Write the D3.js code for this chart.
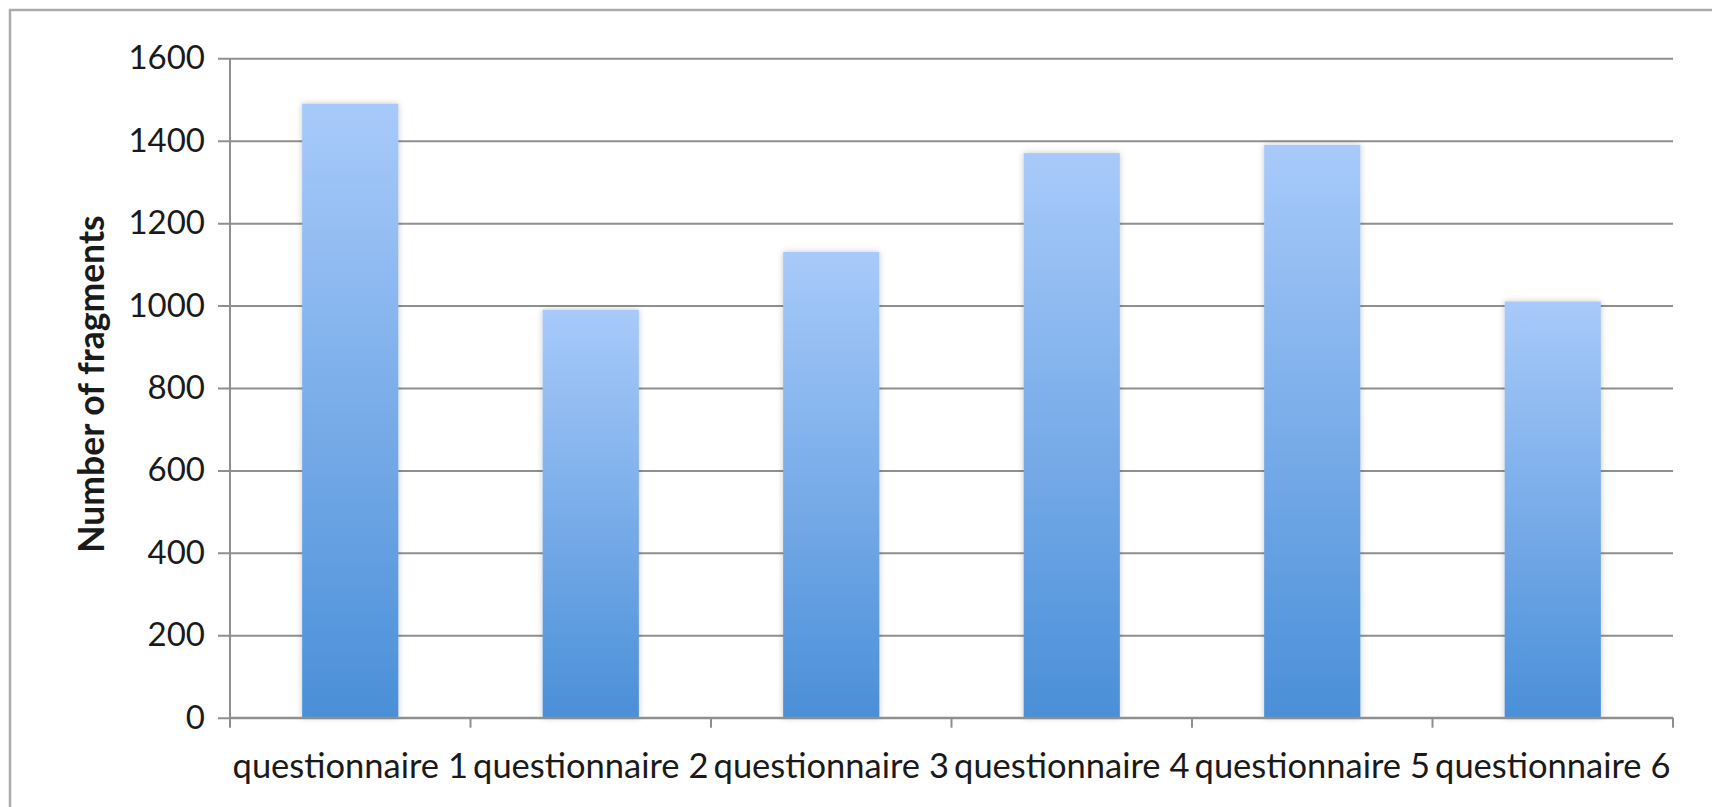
<!DOCTYPE html>
<html>
<head>
<meta charset="utf-8">
<script src="https://cdn.jsdelivr.net/npm/d3@7"></script>
<style>
  html, body { margin: 0; padding: 0; background: #fff; }
  svg { display: block; }
  text { font-family: Lato, "Open Sans", sans-serif; fill: #1a1a1a; }
</style>
</head>
<body>
<script>
// Fragments collected per questionnaire
const categories = ["questionnaire 1", "questionnaire 2", "questionnaire 3",
                    "questionnaire 4", "questionnaire 5", "questionnaire 6"];
const fragmentCounts = [1490, 990, 1130, 1370, 1390, 1010];
const yTickValues = [0, 200, 400, 600, 800, 1000, 1200, 1400, 1600];
const yAxisTitle = "Number of fragments";

const W = 1712, H = 807;
const plot = { left: 230, right: 1673, top: 58.3, bottom: 717.7 };

const svg = d3.select("body").append("svg")
  .attr("width", W).attr("height", H);

const defs = svg.append("defs");
const grad = defs.append("linearGradient")
  .attr("id", "barFill").attr("x1", 0).attr("y1", 0).attr("x2", 0).attr("y2", 1);
grad.append("stop").attr("offset", "0%").attr("stop-color", "#a8cafa");
grad.append("stop").attr("offset", "100%").attr("stop-color", "#4a8fd8");

const shadow = defs.append("filter").attr("id", "barShadow")
  .attr("x", "-20%").attr("y", "-5%").attr("width", "140%").attr("height", "110%");
shadow.append("feDropShadow")
  .attr("dx", 0).attr("dy", 0).attr("stdDeviation", 3)
  .attr("flood-color", "#000").attr("flood-opacity", 0.22);

// outer chart frame
svg.append("rect")
  .attr("x", 10).attr("y", 10)
  .attr("width", W + 20).attr("height", H + 20)
  .attr("fill", "none").attr("stroke", "#ababab").attr("stroke-width", 2.5);

const x = d3.scaleBand()
  .domain(categories)
  .range([plot.left, plot.right])
  .paddingInner(0.6)
  .paddingOuter(0.3);

const y = d3.scaleLinear()
  .domain([0, 1600])
  .range([plot.bottom, plot.top]);

// horizontal gridlines + left ticks
const yAxis = svg.append("g")
  .attr("transform", `translate(${plot.left},0)`)
  .call(d3.axisLeft(y)
    .tickValues(yTickValues)
    .tickSize(-(plot.right - plot.left))
    .tickPadding(25)
    .tickFormat(d3.format("d")));
yAxis.select(".domain").remove();
yAxis.selectAll(".tick line")
  .attr("x1", -12)
  .attr("stroke", "#8f8f8f").attr("stroke-width", 2);
yAxis.selectAll(".tick text")
  .attr("font-size", 33).attr("fill", "#1a1a1a")
  .style("font-family", "Lato, 'Open Sans', sans-serif");

// vertical axis line
svg.append("line")
  .attr("x1", plot.left).attr("x2", plot.left)
  .attr("y1", plot.top).attr("y2", plot.bottom)
  .attr("stroke", "#8f8f8f").attr("stroke-width", 2);

// bars
svg.append("g")
  .selectAll("rect")
  .data(fragmentCounts)
  .join("rect")
  .attr("x", (d, i) => x(categories[i]))
  .attr("y", d => y(d))
  .attr("width", x.bandwidth())
  .attr("height", d => y(0) - y(d))
  .attr("fill", "url(#barFill)")
  .attr("filter", "url(#barShadow)");

// category axis with boundary ticks
const step = x.step();
const boundaries = d3.range(categories.length + 1).map(i => plot.left + i * step);
const xAxisG = svg.append("g");
xAxisG.append("line")
  .attr("x1", plot.left).attr("x2", plot.right)
  .attr("y1", plot.bottom).attr("y2", plot.bottom)
  .attr("stroke", "#8f8f8f").attr("stroke-width", 2);
xAxisG.selectAll("line.bt")
  .data(boundaries)
  .join("line")
  .attr("class", "bt")
  .attr("x1", d => d).attr("x2", d => d)
  .attr("y1", plot.bottom).attr("y2", plot.bottom + 10)
  .attr("stroke", "#8f8f8f").attr("stroke-width", 2);
xAxisG.selectAll("text")
  .data(categories)
  .join("text")
  .attr("x", d => x(d) + x.bandwidth() / 2)
  .attr("y", 778)
  .attr("text-anchor", "middle")
  .attr("font-size", 34.5)
  .text(d => d);

// y-axis title
svg.append("text")
  .attr("transform", `translate(104,${(plot.top + plot.bottom) / 2 - 4}) rotate(-90)`)
  .attr("text-anchor", "middle")
  .attr("font-size", 35.5)
  .attr("font-weight", "bold")
  .text(yAxisTitle);
</script>
</body>
</html>
